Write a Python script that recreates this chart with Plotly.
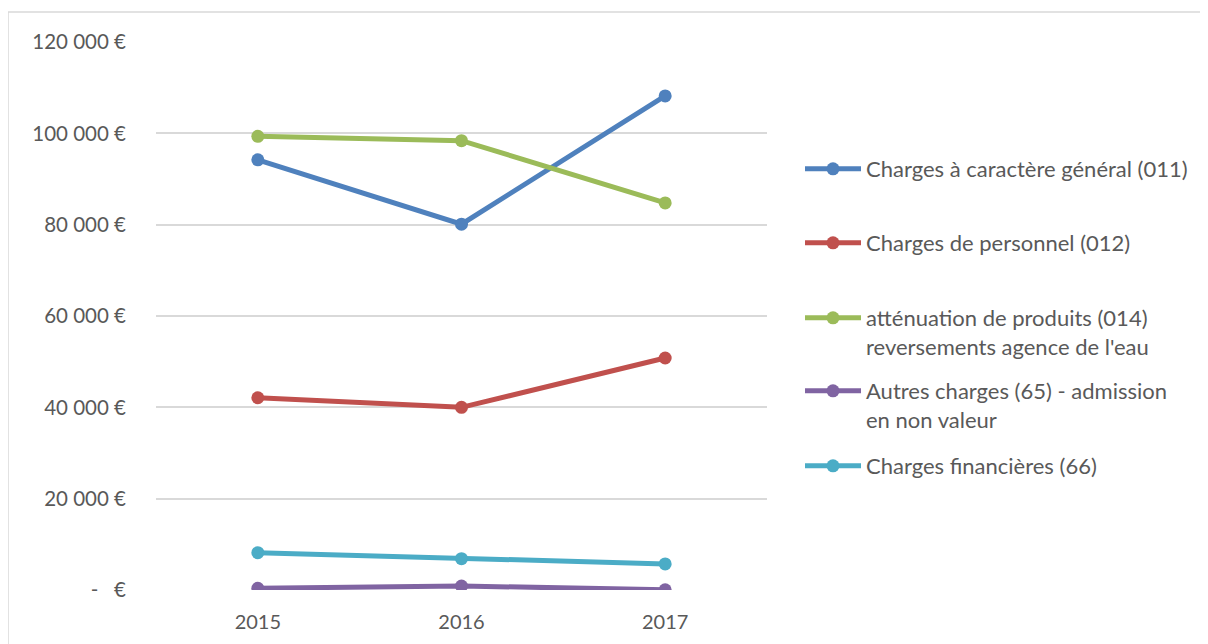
import plotly.graph_objects as go

years = ["2015", "2016", "2017"]
series_names = [
    "Charges à caractère général (011)",
    "Charges de personnel (012)",
    "atténuation de produits (014)<br>reversements agence de l'eau",
    "Autres charges (65) - admission<br>en non valeur",
    "Charges financières (66)",
]
charges_011 = [94200, 80100, 108200]
charges_012 = [42100, 40000, 50800]
attenuation_014 = [99350, 98400, 84750]
autres_65 = [380, 880, 40]
financieres_66 = [8170, 6870, 5700]
colors = ["#4F81BD", "#C0504D", "#9BBB59", "#8064A2", "#4BACC6"]

y_ticks = [0, 20000, 40000, 60000, 80000, 100000, 120000]
y_ticktext = ["-\u00a0\u00a0\u00a0€", "20 000 €", "40 000 €", "60 000 €", "80 000 €", "100 000 €", "120 000 €"]

# the page body has an 8px margin: work in screen pixels, convert to figure pixels
OFF = 8
W, H = 1208 - OFF, 644 - OFF
plot_left, plot_right, plot_top, plot_bottom = 156, 767, 42, 590  # screen px
L = plot_left - OFF
T = plot_top - OFF
R = W - (plot_right - OFF)
B = H - (plot_bottom - OFF)
pw, ph = W - L - R, H - T - B

def px_x(x):
    return (x - OFF - L) / pw

def px_y(y):
    return (H - B - (y - OFF)) / ph

font = "Lato"
txt = "#595959"

fig = go.Figure()
data = [charges_011, charges_012, attenuation_014, autres_65, financieres_66]
legend_ids = ["legend", "legend2", "legend3", "legend4", "legend5"]
for name, vals, col, lg in zip(series_names, data, colors, legend_ids):
    fig.add_trace(go.Scatter(
        x=years, y=vals, name=name, mode="lines+markers",
        line=dict(color=col, width=5),
        marker=dict(color=col, size=13),
        legend=lg,
    ))

legend_centers = [169, 243, 318, 391, 466]
layout_legends = {}
for lg, cy in zip(legend_ids, legend_centers):
    layout_legends[lg] = dict(
        x=px_x(800), y=px_y(cy - 21), xanchor="left", yanchor="top",
        valign="top", itemwidth=56,
        font=dict(family=font, size=22, color=txt),
        bgcolor="rgba(0,0,0,0)",
    )

border = dict(color="#D9D9D9", width=1.5)

fig.update_layout(
    width=W, height=H,
    margin=dict(l=L, r=R, t=T, b=B),
    paper_bgcolor="white", plot_bgcolor="white",
    showlegend=True,
    font=dict(family=font, size=20, color=txt),
    xaxis=dict(
        type="category", range=[-0.5, 2.5],
        showgrid=False, zeroline=False, showline=False,
        ticks="", ticklabelstandoff=18,
        tickfont=dict(family=font, size=20, color=txt),
    ),
    yaxis=dict(
        range=[0, 120000], tickvals=y_ticks, ticktext=y_ticktext,
        showgrid=True, gridcolor="#D9D9D9", gridwidth=1.5,
        zeroline=False, showline=False, ticks="",
        ticklabelstandoff=29,
        tickfont=dict(family=font, size=20.5, color=txt),
    ),
    shapes=[
        dict(type="line", xref="paper", yref="paper",
             x0=px_x(8), y0=px_y(12), x1=px_x(1230), y1=px_y(12),
             line=border, layer="below"),
        dict(type="line", xref="paper", yref="paper",
             x0=px_x(8), y0=px_y(12), x1=px_x(8), y1=px_y(680),
             line=border, layer="below"),
    ],
    **layout_legends,
)

fig.write_html("out.html")
